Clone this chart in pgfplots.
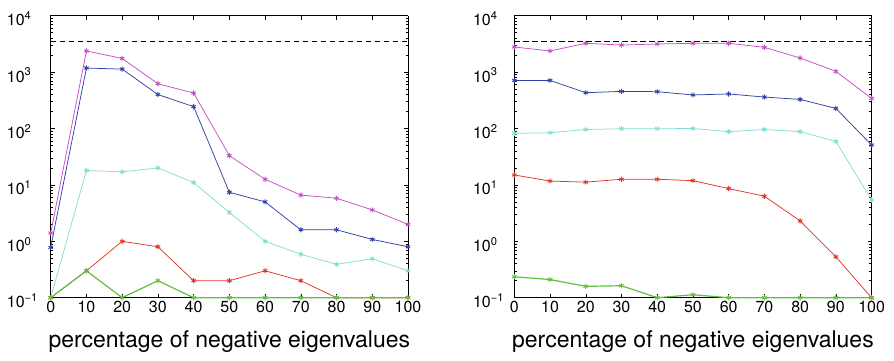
\documentclass[border=0pt]{standalone}
\usepackage{fontspec}
\setmainfont{TeX Gyre Heros}
\usepackage{pgfplots}
\pgfplotsset{compat=1.18}
\definecolor{cmag}{RGB}{196,80,196}
\definecolor{cblue}{RGB}{48,64,168}
\definecolor{ccyan}{RGB}{130,222,212}
\definecolor{cred}{RGB}{228,52,40}
\definecolor{cgreen}{RGB}{96,192,64}
\pgfplotsset{myax/.style={
  scale only axis, width=357.3pt, height=282pt,
  xmin=0, xmax=100, ymin=0.1, ymax=10000,
  xtick={0,10,...,100},
  ytick={0.1,1,10,100,1000,10000},
  yticklabels={10\textsuperscript{−1},10\textsuperscript{0},10\textsuperscript{1},10\textsuperscript{2},10\textsuperscript{3},10\textsuperscript{4}},
  minor ytick={0.2,0.3,0.4,0.5,0.6,0.7,0.8,0.9,2,3,4,5,6,7,8,9,20,30,40,50,60,70,80,90,200,300,400,500,600,700,800,900,2000,3000,4000,5000,6000,7000,8000,9000},
  tick align=inside, major tick length=4pt, minor tick length=2.5pt,
  /pgf/number format/assume math mode=true,
  xticklabel style={font=\fontsize{16}{18}\selectfont},
  yticklabel style={font=\fontsize{16}{18}\selectfont, anchor=west, inner sep=0pt, yshift=-3pt},
  separate axis lines,
  axis line style={line width=0.9pt},
  x axis line style={draw=none},
  every tick/.style={black, line width=0.5pt},
  clip=false,
  xlabel={percentage of negative eigenvalues},
  xlabel style={font=\fontsize{23}{26}\selectfont, at={(axis description cs:0.5,0)}, anchor=base, yshift=-49.3pt, inner sep=0pt},
  every axis plot/.append style={line width=0.75pt, mark=asterisk, mark size=2.6pt, mark options={line width=0.9pt}},
}}
\begin{document}
\begin{tikzpicture}
% left panel
\begin{axis}[ymode=log, myax, at={(50.7pt,62.3pt)}, anchor=south west, yticklabel style={xshift=-44pt}]
\addplot[black, mark=none, line width=0.9pt] coordinates {(-0.13,0.1) (100.13,0.1)};
\addplot[black, mark=none, line width=0.9pt] coordinates {(-0.13,10000) (100.13,10000)};
\addplot[black, dashed, dash pattern=on 5.5pt off 3.5pt, mark=none, line width=0.6pt] coordinates {(0,3550) (100,3550)};
\addplot[cmag] coordinates {(0,1.4) (10,2370) (20,1750) (30,622) (40,425) (50,33) (60,12.6) (70,6.6) (80,5.8) (90,3.6) (100,2.0)};
\addplot[cblue] coordinates {(0,0.78) (10,1180) (20,1130) (30,400) (40,244) (50,7.4) (60,5.0) (70,1.6) (80,1.6) (90,1.08) (100,0.8)};
\addplot[ccyan] coordinates {(0,0.1) (10,18) (20,17) (30,20) (40,11) (50,3.25) (60,1.0) (70,0.59) (80,0.39) (90,0.49) (100,0.3)};
\addplot[cred] coordinates {(0,0.1) (10,0.3) (20,1.0) (30,0.8) (40,0.2) (50,0.2) (60,0.3) (70,0.2) (80,0.1) (90,0.1) (100,0.1)};
\addplot[cgreen, line width=1.2pt] coordinates {(0,0.1) (10,0.3) (20,0.1) (30,0.2) (40,0.1) (50,0.1) (60,0.1) (70,0.1) (80,0.1) (90,0.1) (100,0.1)};
\end{axis}
% right panel
\begin{axis}[ymode=log, myax, at={(514.3pt,62.3pt)}, anchor=south west, yticklabel style={xshift=-41.5pt}]
\addplot[black, mark=none, line width=0.9pt] coordinates {(-0.13,0.1) (100.13,0.1)};
\addplot[black, mark=none, line width=0.9pt] coordinates {(-0.13,10000) (100.13,10000)};
\addplot[black, dashed, dash pattern=on 5.5pt off 3.5pt, mark=none, line width=0.6pt] coordinates {(0,3550) (100,3550)};
\addplot[cmag] coordinates {(0,2790) (10,2370) (20,3240) (30,3020) (40,3150) (50,3240) (60,3240) (70,2750) (80,1780) (90,1030) (100,342)};
\addplot[cblue] coordinates {(0,713) (10,713) (20,431) (30,455) (40,450) (50,393) (60,410) (70,361) (80,328) (90,227) (100,51)};
\addplot[ccyan] coordinates {(0,82) (10,84) (20,96) (30,99) (40,99) (50,100) (60,88) (70,96) (80,88) (90,59) (100,5.4)};
\addplot[cred] coordinates {(0,15) (10,11.7) (20,11.2) (30,12.6) (40,12.6) (50,11.9) (60,8.6) (70,6.3) (80,2.3) (90,0.53) (100,0.1)};
\addplot[cgreen, line width=1.2pt] coordinates {(0,0.235) (10,0.21) (20,0.159) (30,0.163) (40,0.1) (50,0.113) (60,0.1) (70,0.1) (80,0.1) (90,0.1) (100,0.1)};
\end{axis}
\path[use as bounding box] (0,0) rectangle (894pt,360pt);
\end{tikzpicture}
\end{document}
